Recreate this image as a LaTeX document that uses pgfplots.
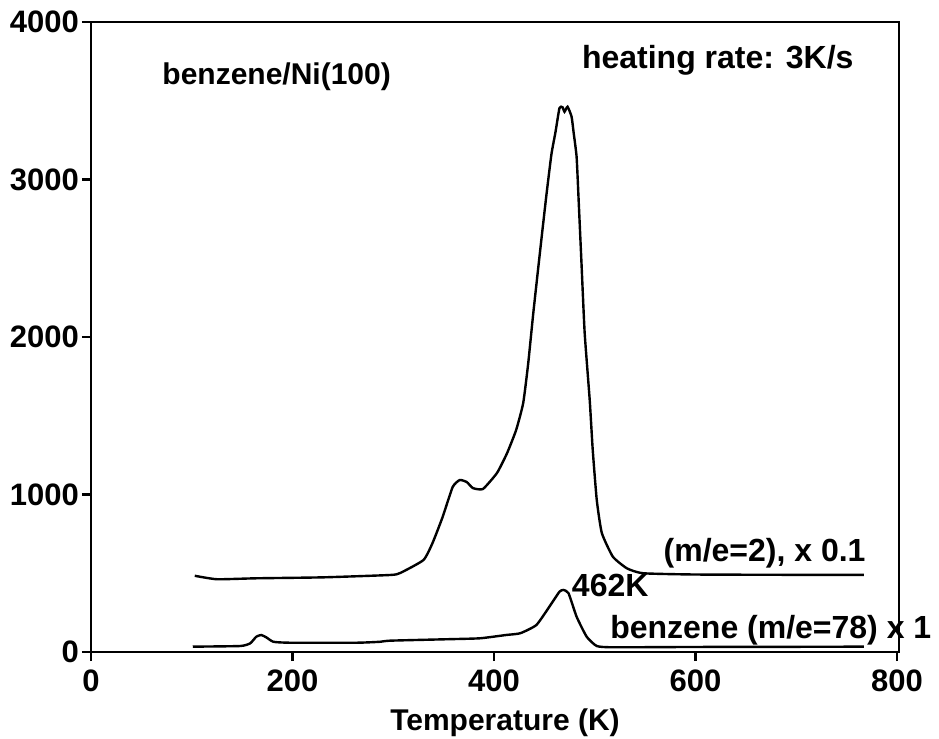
\documentclass[border=0pt]{standalone}
\usepackage{fontspec}
\setmainfont{Liberation Sans}
\usepackage{pgfplots}
\pgfplotsset{compat=1.18}

% m/e=2 trace (scaled x 0.1)
\pgfplotstableread{
T v
103 484
125 462
164 468
230 474
297 489
307 502
330 584
339 692
349 857
359 1048
366 1092
373 1079
379 1041
389 1035
403 1137
413 1263
422 1410
429 1581
434 1835
439 2152
446 2560
452 2900
457 3160
461 3300
465 3454
468 3459
470 3430
473 3462
477 3399
479 3300
482 3143
484 2870
487 2446
490 2025
495 1600
498 1283
502 965
507 756
518 605
532 531
548 500
600 492
700 490
767 490
}\htwo

% benzene m/e=78 trace
\pgfplotstableread{
T v
101 34
148 38
158 55
164 97
169 108
174 93
181 65
197 59
264 59
287 65
297 72
353 81
386 87
412 108
426 119
442 171
455 288
465 383
469 394
474 373
482 224
492 97
502 38
518 30
600 32
700 33
767 34
}\benz

\newcommand\lbl{\fontsize{15}{18}\selectfont\bfseries}
\newcommand\lbltick{\fontsize{15.5}{18}\selectfont\bfseries}
\newcommand\lblbig{\fontsize{16}{19}\selectfont\bfseries}

\begin{document}
\begin{tikzpicture}
\begin{axis}[
  scale only axis,
  width=404pt, height=315pt,
  xmin=0, xmax=802,
  ymin=0, ymax=4000,
  xtick={0,200,...,800},
  ytick={0,1000,...,4000},
  tick align=outside,
  tick pos=left,
  major tick length=4.5pt,
  axis line style={line width=1.2pt},
  every tick/.style={black, line width=1.1pt},
  /pgf/number format/assume math mode=true,
  /pgf/number format/1000 sep={},
  ticklabel style={font=\lbltick},
  yticklabel style={xshift=2pt},
  xticklabel style={yshift=-1pt},
  xlabel={Temperature (K)},
  xlabel style={font=\lbl, xshift=5pt, yshift=-1.5pt},
  clip=false,
]
\addplot[black, line width=1.2pt, smooth, tension=0.3] table[x=T, y=v] {\htwo};
\addplot[black, line width=1.2pt, smooth, tension=0.3] table[x=T, y=v] {\benz};

\node[anchor=west, inner sep=0pt, font=\lbl] at (axis cs:70.5,3651) {benzene/Ni(100)};
\node[anchor=west, inner sep=0pt, font=\lblbig] at (axis cs:487,3759) {heating rate: 3K/s};
\node[anchor=west, inner sep=0pt, font=\lblbig] at (axis cs:568,629) {(m/e=2), x 0.1};
\node[anchor=west, inner sep=0pt, font=\lblbig] at (axis cs:477,425) {462K};
\node[anchor=west, inner sep=0pt, font=\lblbig] at (axis cs:515,140) {benzene (m/e=78) x 1};
\end{axis}
\pgfresetboundingbox
\path[use as bounding box] ([xshift=-45.5pt,yshift=-43pt]current axis.south west) rectangle ([xshift=20pt,yshift=11pt]current axis.north east);
\end{tikzpicture}
\end{document}
